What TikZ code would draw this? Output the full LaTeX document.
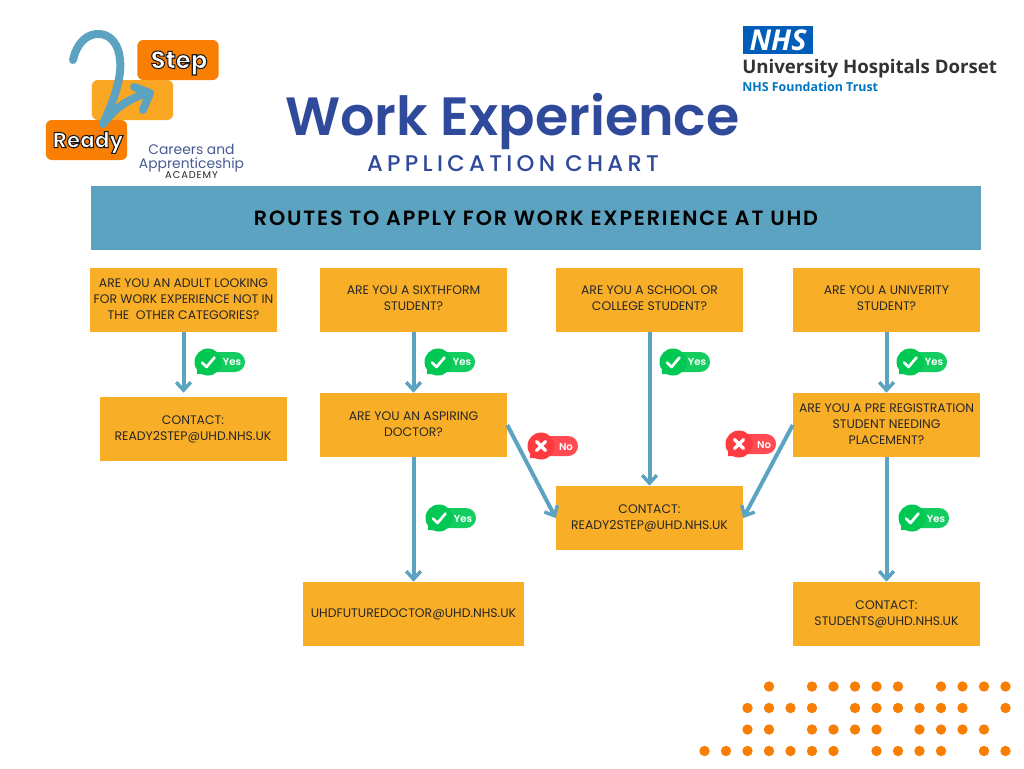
\documentclass[tikz,border=0pt]{standalone}
\usepackage{fontspec}
\setmainfont{Poppins}
\newfontfamily\osans{Open Sans}
\newfontfamily\subt[LetterSpace=19]{Poppins Medium}
\newfontfamily\semib{Poppins SemiBold}
\newfontfamily\bann[LetterSpace=9]{Poppins SemiBold}
\newfontfamily\spacedb[LetterSpace=9]{Poppins}
\usetikzlibrary{arrows.meta,calc}
\definecolor{boxc}{HTML}{F9AE28}
\definecolor{teal1}{HTML}{5BA3C0}
\definecolor{orng}{HTML}{F87E04}
\definecolor{titlec}{HTML}{2F4A9B}
\definecolor{grn}{HTML}{00C853}
\definecolor{rd}{HTML}{FF3B42}
\definecolor{nhsb}{HTML}{005EB8}
\tikzset{
  qbox/.style={fill=boxc,minimum width=140.25pt,minimum height=48pt,inner sep=0pt,align=center,font=\fontsize{9.3}{12}\selectfont,text=black!85},
  link/.style={draw=teal1,line width=3pt,-{Straight Barb[length=6pt,width=11pt,line width=2.6pt]}},
  logobox/.style={rounded corners=4.5pt,minimum width=61pt,minimum height=30pt,inner sep=0pt},
  badgetxt/.style={text=white,font=\fontsize{7.6}{9}\semib\selectfont,inner sep=0pt},
  dotc/.style={fill=orng,draw=none}
}
\newcommand{\outl}[1]{\special{pdf:code 2 Tr 0.8 w 0.1 0.1 0.1 RG}#1\special{pdf:code 0 Tr}}
% badge: x y color
\newcommand{\badgeshape}[3]{%
  \fill[#3!92!white,rounded corners=7.5pt] (#1,#2-10) rectangle (#1+37,#2+10);
  \fill[#3] (#1,#2) circle[radius=13.5];
  \fill[#3] (#1-11,#2+3) -- (#1-11,#2+12) -- (#1-2,#2+12) -- cycle;
  \fill[black,opacity=.08] (#1+13.5,#2-4) arc[start angle=-17,end angle=17,radius=13.5] -- cycle;
}
\newcommand{\yesbadge}[3]{%
  \badgeshape{#1}{#2}{grn}
  \draw[white,line width=2pt,line cap=round,line join=round] (#1-6,#2+0.5) -- (#1-1.5,#2+5) -- (#1+6.5,#2-4.5);
  \node[badgetxt] (#3) at (#1+24,#2+0.5) {Yes};
}
\newcommand{\nobadge}[3]{%
  \badgeshape{#1}{#2}{rd}
  \draw[white,line width=2.4pt,line cap=round] (#1-4.5,#2-4.5) -- (#1+4.5,#2+4.5) (#1-4.5,#2+4.5) -- (#1+4.5,#2-4.5);
  \node[badgetxt] (#3) at (#1+25,#2+0.5) {No};
}
\begin{document}
\begin{tikzpicture}[x=.75pt,y=-.75pt]
\useasboundingbox (0,0) rectangle (1024,768);
\fill[white] (0,0) rectangle (1024,768);

% logo
\node[logobox,fill=orng] (stepbox) at (178,60) {};
\node[logobox,fill=boxc!85!orng] (midbox) at (132.5,100) {};
\node[logobox,fill=orng] (readybox) at (86.5,140) {};
\node[text=white,font=\fontsize{18.4}{20}\selectfont\bfseries,inner sep=0pt] (steptxt) at (179,63) {\outl{Step}};
\node[text=white,font=\fontsize{16.2}{18}\selectfont\bfseries,inner sep=0pt] (readytxt) at (88,142.5) {\outl{Ready}};
\draw[teal1,line width=6pt,line cap=round,line join=round]
  (73,60) .. controls (77,42) and (88,33) .. (100,34)
  .. controls (114,35) and (122,50) .. (120,72)
  .. controls (118,90) and (110,108) .. (103,124)
  .. controls (115,108) and (130,97) .. (150,93)
  (134,87) -- (150,93) -- (143,110);

\node[text=titlec!70!gray,font=\fontsize{10.4}{10.5}\selectfont,align=center,inner sep=0pt] (careers) at (191.5,158) {Careers and\\Apprenticeship};
\node[text=black!85,font=\fontsize{7.4}{7}\spacedb\selectfont,inner sep=0pt] (academy) at (191.5,175) {ACADEMY};

% NHS logo
\node[fill=nhsb,text=white,minimum width=52.5pt,minimum height=21pt,inner sep=0pt] (nhs) at (778,40) {\fontsize{21.5}{20}\osans\bfseries\itshape\selectfont NHS};
\node[text=black!80,font=\osans\fontsize{14}{16}\selectfont\bfseries,inner sep=0pt,anchor=west] (uhd) at (742,69) {University Hospitals Dorset};
\node[text=nhsb!85!cyan,font=\osans\fontsize{9.3}{11}\selectfont\bfseries,inner sep=0pt,anchor=west] (trust) at (742,87) {NHS Foundation Trust};

% titles
\node[text=titlec,font=\fontsize{40.4}{44}\semib\selectfont,inner sep=0pt] (title) at (512.5,121.5) {Work Experience};
\node[text=titlec,font=\fontsize{17}{18}\subt\selectfont,inner sep=0pt] (subtitle) at (513,164) {APPLICATION CHART};

% banner
\node[fill=teal1,minimum width=667.5pt,minimum height=48pt,inner sep=0pt] (banner) at (536,218) {\textcolor{black}{\fontsize{15.5}{16}\bann\selectfont ROUTES TO APPLY FOR WORK EXPERIENCE AT UHD}};

% boxes
\node[qbox] (a1) at (183.5,300) {ARE YOU AN ADULT LOOKING\\FOR WORK EXPERIENCE NOT IN\\THE\ \ OTHER CATEGORIES?\\[-10.5pt]};
\node[qbox] (a2) at (413.5,300) {ARE YOU A SIXTHFORM\\STUDENT?\\[-9.8pt]};
\node[qbox] (a3) at (649.5,300) {ARE YOU A SCHOOL OR\\COLLEGE STUDENT?\\[-9.8pt]};
\node[qbox] (a4) at (886.5,300) {ARE YOU A UNIVERITY\\STUDENT?\\[-9.8pt]};
\node[qbox] (b1) at (193,429) {CONTACT:\\READY2STEP@UHD.NHS.UK};
\node[qbox] (b2) at (413.5,425) {ARE YOU AN ASPIRING\\DOCTOR?\\[-10.5pt]};
\node[qbox] (b4) at (886.5,425) {ARE YOU A PRE REGISTRATION\\STUDENT NEEDING\\PLACEMENT?\\[-10.5pt]};
\node[qbox] (c3) at (649.5,518) {CONTACT:\\READY2STEP@UHD.NHS.UK};
\node[qbox,minimum width=165.75pt] (d2) at (413.5,614) {UHDFUTUREDOCTOR@UHD.NHS.UK};
\node[qbox] (d4) at (886.5,614) {CONTACT:\\STUDENTS@UHD.NHS.UK};

% connectors
\draw[link,shorten >=3pt] (a1.south) -- (a1.south |- b1.north);
\draw[link] (a2.south) -- (b2.north);
\draw[link] (a3.south) -- (c3.north);
\draw[link] (a4.south) -- (b4.north);
\draw[link] (b2.south) -- (d2.north);
\draw[link] (b4.south) -- (d4.north);
\draw[link] (b2.east) -- (c3.west);
\draw[link] (b4.west) -- (c3.east);

% badges
\yesbadge{208}{362}{y1}
\yesbadge{438}{362}{y2}
\yesbadge{673}{362}{y3}
\yesbadge{910}{362}{y4}
\yesbadge{439}{518}{y5}
\yesbadge{912}{518}{y6}
\nobadge{541}{446}{n1}
\nobadge{739}{444}{n2}

% dots
\foreach \yy/\cols in {686.5/{3,5,6,7,8,9,11,12,13,14},708/{2,3,4,5,7,8,9,10,11,12,14},729.5/{2,3,5,6,7,8,10,11,12,13},751/{0,1,2,3,4,5,6,8,9,10,11,13,14}}{
  \foreach \c in \cols { \fill[dotc] (704.5+21.5*\c,\yy) circle[radius=5.2]; }
}
\end{tikzpicture}
\end{document}
